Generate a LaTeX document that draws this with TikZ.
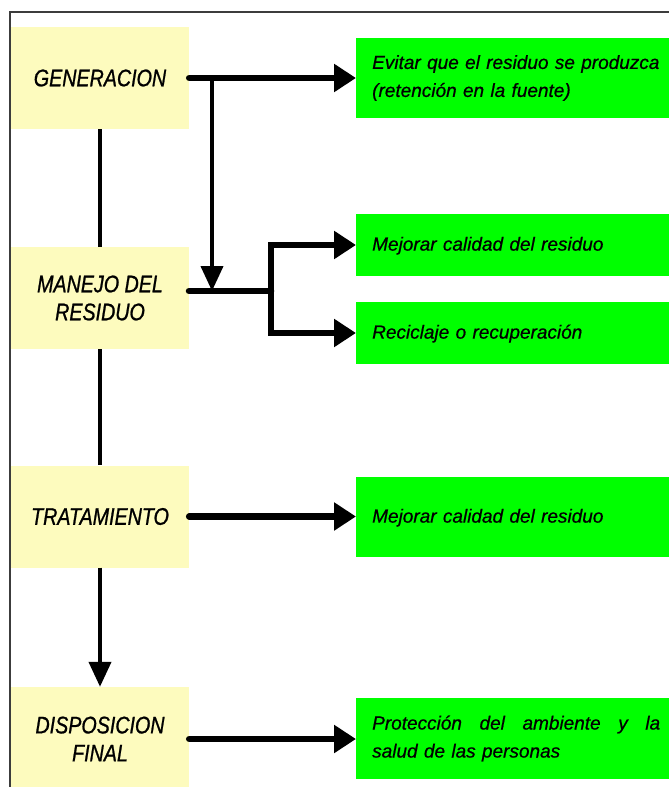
\documentclass[tikz,border=0pt]{standalone}
\usepackage{fontspec}
\setmainfont{Liberation Sans}[FakeBold=0.6]
\newfontfamily\narrowfont{Liberation Sans}[FakeStretch=0.82,FakeBold=0.9]
\usetikzlibrary{arrows.meta}
\definecolor{paleyel}{RGB}{253,251,190}
\definecolor{brgreen}{RGB}{0,255,0}
\definecolor{frame}{RGB}{60,60,60}
\tikzset{
  stage/.style={rectangle, fill=paleyel, minimum width=178bp, minimum height=102bp, inner sep=0pt, align=center,
    font=\narrowfont\itshape\fontsize{24bp}{28bp}\selectfont},
  goal/.style={rectangle, fill=brgreen, anchor=west, minimum height=80bp, inner xsep=16bp, inner ysep=0pt,
    text width=288bp, align=left, font=\itshape\fontsize{19bp}{28bp}\selectfont},
  bigarrow/.style={line width=6.5bp, line cap=round, -{Triangle[length=22bp,width=27bp]}},
  bigline/.style={line width=6.5bp, line cap=round},
  thinline/.style={line width=4bp},
  thinarrow/.style={line width=4bp, -{Triangle[length=25bp,width=22bp]}}
}
\begin{document}
\begin{tikzpicture}[x=1bp,y=-1bp]
\useasboundingbox (0,0) rectangle (669,787);
\clip (0,0) rectangle (669,787);
\fill[white] (0,0) rectangle (669,787);
\draw[frame, line width=1.5bp] (10,12) rectangle (700,820);

% stages
\node[stage] (gen) at (100,78) {GENERACION};
\node[stage] (man) at (100,298) {MANEJO DEL\\RESIDUO};
\node[stage] (tra) at (100,516.5) {TRATAMIENTO};
\node[stage, minimum height=104bp] (dis) at (100,739) {DISPOSICION\\FINAL};

% goals
\node[goal] (g1) at (356,78) {\raisebox{0pt}[\height][\depth]{}Evitar que el residuo se produzca\\(retención en la fuente)};
\node[goal, minimum height=62bp] (g2) at (356,245) {\strut Mejorar calidad del residuo};
\node[goal, minimum height=62bp] (g3) at (356,333) {\strut Reciclaje o recuperación};
\node[goal] (g4) at (356,517) {\strut Mejorar calidad del residuo};
\node[goal, minimum height=81bp] (g5) at (356,738.5) {Protección\hfill del\hfill ambiente\hfill y\hfill la\\salud de las personas};

% vertical chain
\draw[thinline] (gen.south) -- (man.north);
\draw[thinline] (man.south) -- (tra.north);
\draw[thinarrow] (tra.south) -- (dis.north);

% horizontal arrows
\draw[bigarrow] (gen.east) -- (g1.west);
\draw[bigarrow] (tra.east) -- (g4.west |- tra.east);
\draw[bigarrow] (dis.east) -- (g5.west |- dis.east);

% manejo branching
\coordinate (jn) at (271,291);
\coordinate (s1) at (212,78);
\coordinate (s2) at (212,291);
\coordinate (mstart) at (189,291);
\draw[bigline] (mstart) -- (jn);
\draw[line width=6.5bp, -{Triangle[length=22bp,width=27bp]}] (jn) |- (g2.west);
\draw[line width=6.5bp, -{Triangle[length=22bp,width=27bp]}] (jn) |- (g3.west);
\draw[thinarrow] (s1) -- (s2);
\end{tikzpicture}
\end{document}
